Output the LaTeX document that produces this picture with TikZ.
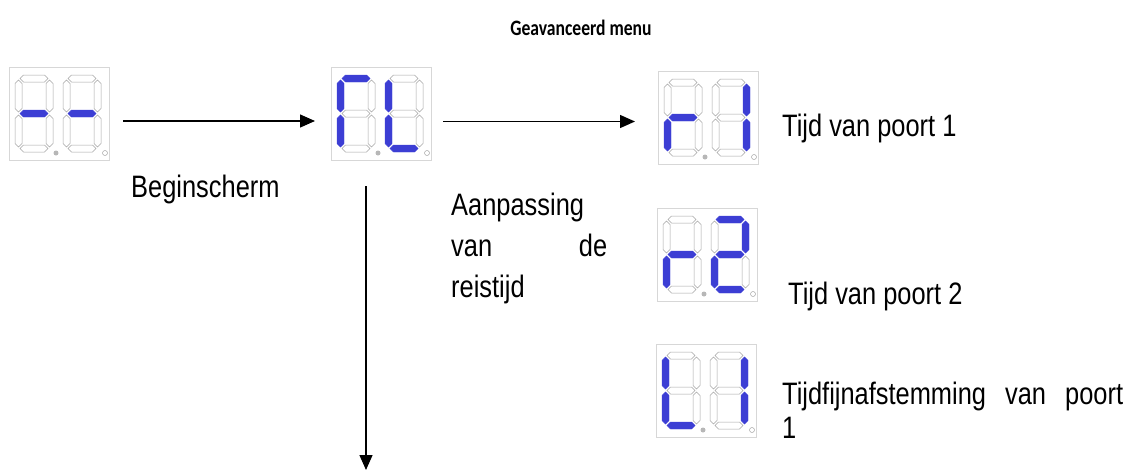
\documentclass[tikz,border=0pt]{standalone}
\usepackage{fontspec}
\setmainfont[FakeStretch=0.82]{Liberation Sans}
\newfontfamily\headfont[FakeStretch=0.8]{Carlito}
\usepackage{tikz}
\usetikzlibrary{arrows.meta, calc}

\definecolor{segblue}{RGB}{60,62,212}
\definecolor{seggray}{RGB}{165,165,165}
\definecolor{boxgray}{RGB}{215,215,215}

\tikzset{
  lit/.style={fill=segblue, draw=segblue, line width=0.4pt},
  dim/.style={fill=white, draw=seggray, line width=0.5pt},
  dispbox/.style={draw=boxgray, line width=0.8pt, minimum width=100pt, minimum height=93pt, inner sep=0pt, outer sep=0pt},
  arr/.style={-{Triangle[length=15pt,width=13pt]}, line width=1.3pt},
  lbl/.style={font=\fontsize{31}{41}\selectfont, inner sep=0pt},
}

% one digit, top left corner at (#1,#2), styles of segments a..g
\newcommand{\segdigit}[9]{%
  \begin{scope}[shift={(#1,#2)}]
    \path[#3] (5,3.5) -- (8.5,0) -- (29.5,0) -- (33,3.5) -- (29.5,7) -- (8.5,7) -- cycle;
    \path[#4] (34.5,5) -- (38,8.5) -- (38,33.5) -- (34.5,37) -- (31,33.5) -- (31,8.5) -- cycle;
    \path[#5] (34.5,40) -- (38,43.5) -- (38,68.5) -- (34.5,72) -- (31,68.5) -- (31,43.5) -- cycle;
    \path[#6] (5,73.5) -- (8.5,70) -- (29.5,70) -- (33,73.5) -- (29.5,77) -- (8.5,77) -- cycle;
    \path[#7] (3.5,40) -- (7,43.5) -- (7,68.5) -- (3.5,72) -- (0,68.5) -- (0,43.5) -- cycle;
    \path[#8] (3.5,5) -- (7,8.5) -- (7,33.5) -- (3.5,37) -- (0,33.5) -- (0,8.5) -- cycle;
    \path[#9] (5,38.5) -- (8.5,35) -- (29.5,35) -- (33,38.5) -- (29.5,42) -- (8.5,42) -- cycle;
  \end{scope}}

% frame of a display with its two decimal points
\newcommand{\dispbox}[3]{%
  \node[dispbox] (#1) at (#2+50,#3+46.5) {};
  \fill[seggray!80] (#2+47,#3+86) circle (2.5pt);
  \draw[seggray, line width=0.5pt] (#2+96,#3+86) circle (2.5pt);}

\begin{document}
\begin{tikzpicture}[x=1pt, y=-1pt]
  \useasboundingbox (0,0) rectangle (1135,472);
  \node[font=\headfont\bfseries\fontsize{22}{26}\selectfont, anchor=base, inner sep=0pt] (title) at (581,35) {Geavanceerd menu};

  % displays
  \dispbox{start}{9}{67}
  \segdigit{15}{75}{dim}{dim}{dim}{dim}{dim}{dim}{lit}
  \segdigit{63}{75}{dim}{dim}{dim}{dim}{dim}{dim}{lit}

  \dispbox{cl}{331}{67}
  \segdigit{337}{75}{lit}{dim}{dim}{dim}{lit}{lit}{dim}
  \segdigit{385}{75}{dim}{dim}{dim}{lit}{lit}{lit}{dim}

  \dispbox{rone}{658}{71}
  \segdigit{664}{79}{dim}{dim}{dim}{dim}{lit}{dim}{lit}
  \segdigit{712}{79}{dim}{lit}{lit}{dim}{dim}{dim}{dim}

  \dispbox{rtwo}{657}{208}
  \segdigit{663}{216}{dim}{dim}{dim}{dim}{lit}{dim}{lit}
  \segdigit{711}{216}{lit}{lit}{dim}{lit}{lit}{dim}{lit}

  \dispbox{lone}{656}{344}
  \segdigit{662}{352}{dim}{dim}{dim}{lit}{lit}{lit}{dim}
  \segdigit{710}{352}{dim}{lit}{lit}{dim}{dim}{dim}{dim}

  % labels
  \node[lbl, anchor=base west] (begintxt) at (131,197) {Beginscherm};
  \node[lbl, anchor=north west, text width=156pt, align=justify] (aanptxt) at (451,193) {Aanpassing\linebreak van de\linebreak reistijd};
  \node[lbl, anchor=base west] (ronetxt) at (782,136) {Tijd van poort 1};
  \node[lbl, anchor=base west] (rtwotxt) at (788,304) {Tijd van poort 2};
  \node[lbl, font=\fontsize{31}{34}\selectfont, anchor=north west, text width=341pt, align=justify] (lonetxt) at (782,382) {Tijdfijnafstemming van poort\linebreak 1};

  % arrows
  \draw[arr, shorten <=14pt, shorten >=16pt] ([yshift=-7.5pt]start.east) -- ([yshift=-7.5pt]cl.west);
  \draw[arr, shorten <=12pt, shorten >=23pt] ([yshift=-8pt]cl.east) -- ([yshift=-8pt]cl.east -| rone.west);
  \coordinate (bottom) at (366,470);
  \draw[arr, shorten <=26pt] ([xshift=-15pt]cl.south) -- (bottom);
\end{tikzpicture}
\end{document}
